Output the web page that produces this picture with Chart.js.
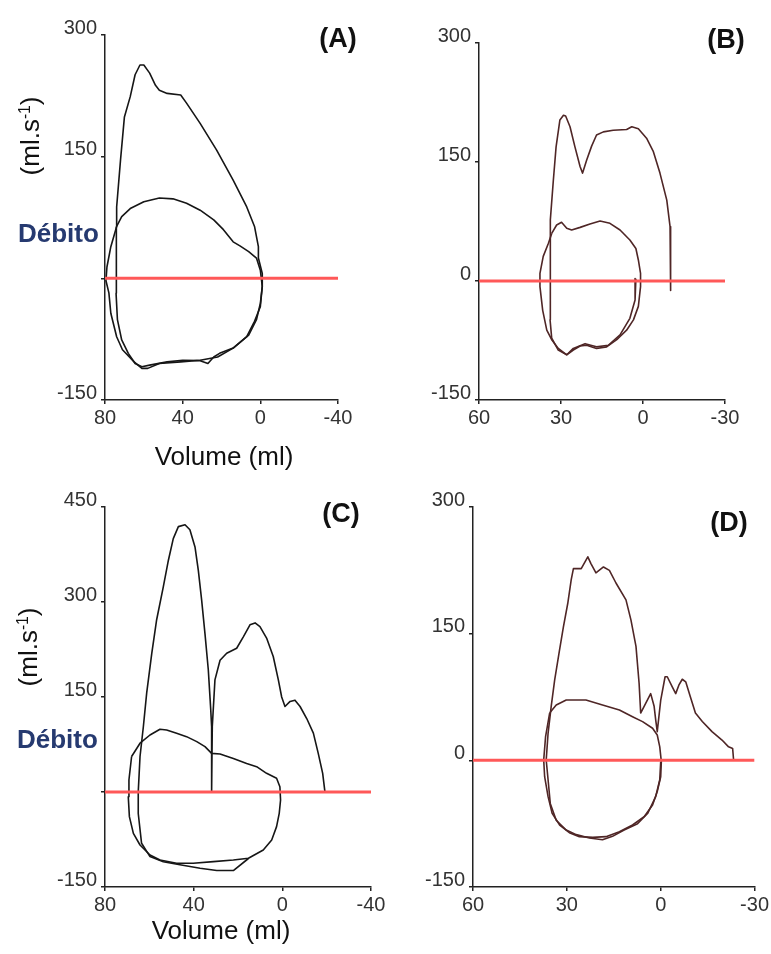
<!DOCTYPE html>
<html lang="pt">

<head>
    <meta charset="UTF-8">
    <title>Débito x Volume</title>
    <script src="https://cdn.jsdelivr.net/npm/chart.js@4.4.1/dist/chart.umd.min.js"></script>
    <style>
        body {
            margin: 0;
            background: #fff;
            font-family: 'Liberation Sans', Arial, sans-serif;
        }

        .page {
            position: relative;
            width: 771px;
            height: 954px;
            overflow: hidden;
            background: #fff;
        }

        .panel {
            position: absolute;
        }

        .label {
            position: absolute;
            white-space: nowrap;
            color: #111;
            line-height: 1;
        }

        .tag {
            font-size: 27px;
            font-weight: bold;
            transform: translate(-50%, -50%);
        }

        .unit {
            font-size: 26px;
            transform: translate(-50%, -50%) rotate(-90deg);
        }

        .unit sup {
            font-size: 60%;
        }

        .debito {
            font-size: 26px;
            font-weight: bold;
            color: #263a70;
            transform: translateY(-50%);
        }

        .vol {
            font-size: 26px;
            transform: translate(-50%, -50%);
        }
    </style>
</head>

<body>
    <div class="page">
        <div class="panel" style="left:0;top:0;width:390px;height:470px"><canvas id="chartA"></canvas></div>
        <div class="panel" style="left:390px;top:0;width:381px;height:470px"><canvas id="chartB"></canvas></div>
        <div class="panel" style="left:0;top:470px;width:395px;height:484px"><canvas id="chartC"></canvas></div>
        <div class="panel" style="left:395px;top:470px;width:376px;height:484px"><canvas id="chartD"></canvas></div>

        <div class="label tag" style="left:338px;top:38px">(A)</div>
        <div class="label tag" style="left:726px;top:39px">(B)</div>
        <div class="label tag" style="left:341px;top:513px">(C)</div>
        <div class="label tag" style="left:729px;top:522px">(D)</div>

        <div class="label unit" style="left:30px;top:136px">(ml.s<sup>-1</sup>)</div>
        <div class="label unit" style="left:28px;top:647px">(ml.s<sup>-1</sup>)</div>

        <div class="label debito" style="left:18px;top:233px">Débito</div>
        <div class="label debito" style="left:17px;top:739px">Débito</div>

        <div class="label vol" style="left:224px;top:456px">Volume (ml)</div>
        <div class="label vol" style="left:221px;top:930px">Volume (ml)</div>
    </div>

    <script>
        // tick values and labels
        const xTicksA = [80, 40, 0, -40];
        const yTicksA = [-150, 0, 150, 300];
        const yLabelsA = ['-150', '', '150', '300'];
        const xTicksB = [60, 30, 0, -30];
        const yTicksB = [-150, 0, 150, 300];
        const yLabelsB = ['-150', '0', '150', '300'];
        const xTicksC = [80, 40, 0, -40];
        const yTicksC = [-150, 0, 150, 300, 450];
        const yLabelsC = ['-150', '', '150', '300', '450'];
        const xTicksD = [60, 30, 0, -30];
        const yTicksD = [-150, 0, 150, 300];
        const yLabelsD = ['-150', '0', '150', '300'];

        // (A) volume (ml) / flow (ml/s), two loops
        const aVol1 = [1, -1, -1, 0, 2, 6, 14, 22, 31, 41, 52, 58, 61, 65, 71, 74, 77, 78, 79.5, 79, 77, 74, 74, 72, 70, 67, 64.5, 62, 60, 57, 54, 52, 48, 41, 38, 31, 22.5, 14, 7, 3, 1, 1];
        const aFlow1 = [25, 6, -10, -31, -51, -70, -86, -97, -101, -103, -105, -111, -111, -103, -88, -72, -43, -18, -3, 14, 39, 64, 88, 146, 199, 224, 251, 263, 263, 253, 238, 232, 228, 226, 216, 191, 158, 121, 88, 64, 39, 25];
        const aVol2 = [74, 71.4, 67, 60, 52, 45, 38, 31, 24, 19, 14, 10.5, 6, 2, 0, -1, 0, 3, 7, 14, 21, 24, 27, 31, 40, 48, 57, 61, 64.5, 68, 71.4, 73.6, 74.3, 74.3, 74];
        const aFlow2 = [64, 76, 86, 94.5, 99, 98, 92.5, 84, 72, 60, 45, 40, 33, 25, 10, -10, -35, -53, -72, -86, -92.5, -97, -105, -101.5, -101, -103, -107, -109, -105, -92.5, -76, -51, -18.5, 31, 64];

        // (B)
        const bVol1 = [2.6, 2.9, 4.8, 8.4, 12.7, 17, 21.2, 25.5, 27.9, 31, 33.4, 34, 34, 34, 33.7, 32.8, 31.8, 30.4, 29.1, 28.3, 26.7, 24.9, 23, 22.1, 20.6, 18.8, 17, 14.5, 10.9, 6, 4.1, 1.7, -1.3, -3.8, -6.2, -8.7, -9.9, -10.1, -10.1];
        const bFlow1 = [3, -24, -47, -68, -81, -83, -79, -85, -93, -87, -72, -49, -7, 35, 77, 127, 169, 203, 209, 208, 194.5, 169, 144, 136, 152.5, 170, 184, 188, 190, 191, 194.5, 192, 180, 163, 136, 102, 68.5, 35, -12];
        const bVol2 = [33.4, 31.6, 29.8, 27.9, 26.1, 23, 19.4, 15.7, 12.1, 8.4, 4.8, 2.6, 1.7, 0.9, 0.9, 1.7, 3.5, 6, 9.6, 13.3, 17, 20.6, 23, 25.5, 27.9, 31, 33.4, 35.2, 36.7, 37.7, 37.7, 36.5, 34.6, 33.4];
        const bFlow2 = [60, 70.6, 74, 66.4, 64.3, 67.6, 71.8, 75.6, 72.7, 64.3, 51.7, 41, 26.5, 9.7, -7, -32, -49, -62, -74, -83, -85, -81, -82, -87, -93, -85, -74, -62, -37, -7, 9.7, 31, 47.5, 60];

        // (C)
        const cVol1 = [15.3, 22.1, 29.6, 37.1, 46.2, 53.7, 59.7, 63.5, 65, 65, 64.2, 62.7, 61.2, 58.9, 56.7, 53.7, 51.4, 49.2, 46.9, 43.9, 41.7, 39.4, 37.9, 36.4, 34.9, 33.4, 32.3, 31.9, 31.9, 31.6, 30.4, 28.1, 25.1, 20.6, 17.6, 14.6, 12.3, 10.1, 7.1, 4.1, 1.8, 0.3, -1.2, -3.5, -5.7, -8, -11, -14, -16.2, -18.2, -19.2];
        const cFlow1 = [-105, -124, -124, -120.5, -115, -110, -102, -81, -34, 0.5, 56, 103, 156, 219, 272, 324, 366, 400, 419, 422, 414, 387, 350, 303, 250, 193, 130, 103, 0.5, 103, 177, 208, 219, 227, 245, 264, 267, 261, 243, 214, 177, 150, 135, 143, 145, 135, 116, 93, 61, 29.5, 0.5];
        const cVol2 = [68, 64.2, 59.7, 55.2, 52.2, 47.7, 43.2, 38.6, 34.9, 31.9, 28.1, 22.1, 16.1, 11.6, 7.1, 2.6, 1.1, 0.8, 1.4, 2.6, 4.8, 8.6, 15.3, 22.1, 31.1, 40.2, 47.7, 55.2, 59.7, 64.2, 67.2, 69, 69.5, 69.2, 68];
        const cFlow2 = [56, 77, 90, 99, 98, 92.6, 87.4, 79.5, 71.6, 61, 60, 53, 45, 40, 29.5, 21.6, 8.4, -12.6, -33.7, -54.7, -75.8, -91.6, -104.7, -107.4, -110, -112.6, -112.6, -107.4, -99.5, -83.7, -65.3, -38.9, -7.4, 18.9, 56];

        // (D)
        const dVol1 = [0, 0.3, 1.6, 4.2, 7.4, 11.7, 15.4, 18.6, 22.8, 27, 30.2, 33.4, 35.3, 36, 36.6, 36, 35, 33.9, 32.5, 31.1, 29.7, 28.6, 27.9, 25.4, 23.3, 22.3, 20.7, 18.3, 16.4, 14.3, 11.1, 9.5, 7.9, 6.9, 6.4, 4.8, 3.2, 2.1, 1.6, 1.1, 0, -1.4, -2.1, -3.7, -4.8, -5.8, -6.9, -8, -9.5, -11.1, -13.3, -16.4, -19.6, -21.7, -23, -23.3];
        const dFlow1 = [-1.6, -23, -43, -63, -75, -82.5, -90, -94, -92, -88, -82.5, -71, -51, -23, 0.4, 32, 64, 95, 127, 158, 186, 214, 227, 227, 241, 233, 222, 229, 225, 210, 190, 166, 135, 91, 56, 67.5, 79, 64, 48, 34, 71, 99, 99, 87, 79, 89, 96, 93, 75, 56, 46, 34, 24, 16, 14, 0.4];
        const dVol2 = [35.5, 33.4, 30.2, 23.9, 18.6, 13.2, 9, 5.8, 2.6, 1.1, 0.3, -0.2, 0, 1.1, 2.6, 5.3, 9, 13.2, 17.5, 21.7, 26, 29.2, 32.3, 34.7, 36, 37.1, 37.4, 36.8, 35.5];
        const dFlow2 = [56, 65.5, 71.4, 71.4, 65.5, 59.6, 51.7, 45.8, 38, 30, 16, -1.6, -19.4, -37, -53, -66.7, -76.6, -84.5, -90.4, -91.2, -90.4, -85.7, -76.6, -62.8, -43, -19.4, 0.4, 28, 56];

        const YW = 60; // y axis box width
        const XH = 30; // x axis box height
        const tickFont = { family: "'Liberation Sans', Arial, sans-serif", size: 20 };

        function pts(xs, ys) {
            return xs.map((x, i) => ({ x: x, y: ys[i] }));
        }

        function axis(ticks, labels, isX) {
            return {
                type: 'linear',
                reverse: isX,
                min: Math.min(...ticks),
                max: Math.max(...ticks),
                afterFit: s => {
                    if (isX) s.height = XH;
                    else s.width = YW;
                },
                afterBuildTicks: s => {
                    s.ticks = ticks.map(v => ({ value: v }));
                },
                grid: { drawOnChartArea: false, drawTicks: true, tickLength: 4, color: '#222', lineWidth: 1.5 },
                border: { display: true, color: '#222', width: 1.5 },
                ticks: {
                    autoSkip: false,
                    maxRotation: 0,
                    font: tickFont,
                    color: '#333',
                    padding: isX ? 2 : 4,
                    labelOffset: isX ? 0 : -7,
                    callback: v => labels[ticks.indexOf(v)]
                }
            };
        }

        // box = panel div on the page, area = wanted plot area on the page
        function drawPanel(id, box, area, xTicks, yTicks, yLabels, loops, color) {
            const zero = [{ x: xTicks[0], y: 0 }, { x: xTicks[xTicks.length - 1], y: 0 }];
            const sets = [{
                data: zero,
                showLine: true,
                borderColor: 'rgb(255, 88, 88)',
                borderWidth: 3,
                pointRadius: 0
            }];
            loops.forEach(l => {
                sets.push({
                    data: pts(l[0], l[1]),
                    showLine: true,
                    borderColor: color,
                    borderWidth: 1.6,
                    borderJoinStyle: 'round',
                    pointRadius: 0
                });
            });
            new Chart(document.getElementById(id), {
                type: 'scatter',
                data: { datasets: sets },
                options: {
                    responsive: true,
                    maintainAspectRatio: false,
                    animation: false,
                    events: [],
                    layout: {
                        autoPadding: false,
                        padding: {
                            left: area.left - box.left - YW,
                            top: area.top - box.top,
                            right: box.left + box.width - area.right,
                            bottom: box.top + box.height - area.bottom - XH
                        }
                    },
                    plugins: { legend: { display: false }, tooltip: { enabled: false } },
                    scales: {
                        x: axis(xTicks, xTicks.map(String), true),
                        y: axis(yTicks, yLabels, false)
                    }
                }
            });
        }

        drawPanel('chartA', { left: 0, top: 0, width: 390, height: 470 }, { left: 105, top: 35, right: 338, bottom: 400 },
            xTicksA, yTicksA, yLabelsA, [[aVol1, aFlow1], [aVol2, aFlow2]], '#161616');
        drawPanel('chartB', { left: 390, top: 0, width: 381, height: 470 }, { left: 479, top: 43, right: 725, bottom: 400 },
            xTicksB, yTicksB, yLabelsB, [[bVol1, bFlow1], [bVol2, bFlow2]], '#4f2626');
        drawPanel('chartC', { left: 0, top: 470, width: 395, height: 484 }, { left: 105, top: 507, right: 371, bottom: 887 },
            xTicksC, yTicksC, yLabelsC, [[cVol1, cFlow1], [cVol2, cFlow2]], '#161616');
        drawPanel('chartD', { left: 395, top: 470, width: 376, height: 484 }, { left: 473, top: 507, right: 756, bottom: 887 },
            xTicksD, yTicksD, yLabelsD, [[dVol1, dFlow1], [dVol2, dFlow2]], '#4f2626');
    </script>
</body>

</html>
